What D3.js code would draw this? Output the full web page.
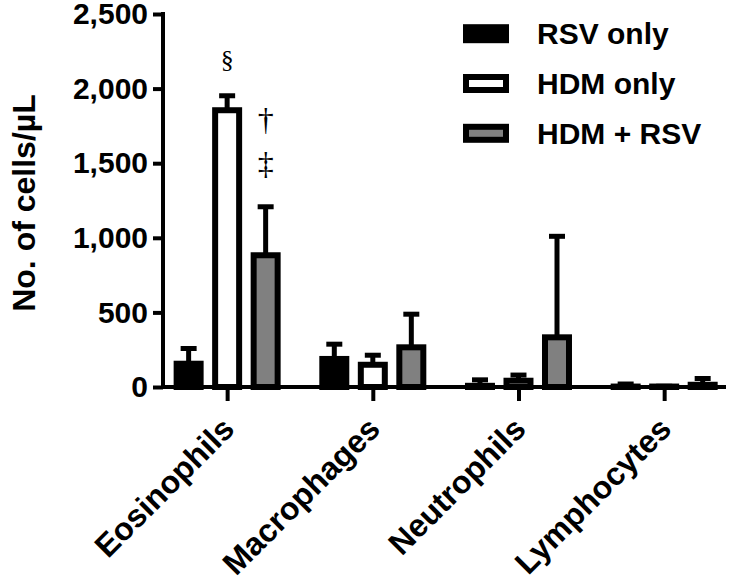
<!DOCTYPE html>
<html><head><meta charset="utf-8">
<script src="https://cdn.jsdelivr.net/npm/d3@7"></script>
<style>
body{margin:0;background:#fff;}
svg{display:block;font-family:"Liberation Sans",Arial,sans-serif;font-weight:bold;}
</style></head>
<body><svg id="c" width="731" height="581"></svg>
<script>
const categories = ["Eosinophils", "Macrophages", "Neutrophils", "Lymphocytes"];
const seriesNames = ["RSV only", "HDM only", "HDM + RSV"];
const rsvOnly = [156, 188, 8, 3];
const hdmOnly = [1855, 149, 42, 3];
const hdmRsv = [883, 266, 333, 15];
const rsvErr = [102, 99, 40, 17];
const hdmErr = [97, 64, 38, 2];
const hdmRsvErr = [325, 222, 677, 42];
const yTicks = [0, 500, 1000, 1500, 2000, 2500];
const annotations = [
  {cat: "Eosinophils", series: "HDM only", text: "§", value: 2135, size: 26},
  {cat: "Eosinophils", series: "HDM + RSV", text: "†", value: 1720, size: 32},
  {cat: "Eosinophils", series: "HDM + RSV", text: "‡", value: 1430, size: 32}
];
const fills = ["#000000", "#ffffff", "#808080"];

const values = [rsvOnly, hdmOnly, hdmRsv];
const errs = [rsvErr, hdmErr, hdmRsvErr];
const data = [];
categories.forEach((c, i) => seriesNames.forEach((s, j) => data.push({cat: c, series: s, j, v: values[j][i], e: errs[j][i]})));

const svg = d3.select("#c");
const y = d3.scaleLinear().domain([0, 2500]).range([387, 14]);
const x0 = d3.scaleBand().domain(categories).range([154.3, 737]).padding(0);
const x1 = d3.scaleBand().domain(seriesNames).range([0, x0.bandwidth()]).paddingInner(0.377).paddingOuter(0.58);
const color = d3.scaleOrdinal().domain(seriesNames).range(fills);

// bars
svg.append("g").selectAll("rect").data(data).join("rect")
  .attr("x", d => x0(d.cat) + x1(d.series))
  .attr("y", d => y(d.v))
  .attr("width", x1.bandwidth())
  .attr("height", d => y(0) - y(d.v))
  .attr("fill", d => color(d.series))
  .attr("stroke", "#000").attr("stroke-width", 6);

// error bars
const eg = svg.append("g").attr("stroke", "#000").attr("stroke-width", 5);
data.forEach(d => {
  const cx = x0(d.cat) + x1(d.series) + x1.bandwidth() / 2;
  eg.append("line").attr("x1", cx).attr("x2", cx).attr("y1", y(d.v)).attr("y2", y(d.v + d.e));
  eg.append("line").attr("x1", cx - 8).attr("x2", cx + 8).attr("y1", y(d.v + d.e)).attr("y2", y(d.v + d.e));
});

// y axis
const yAxis = svg.append("g").attr("transform", "translate(163,0)")
  .call(d3.axisLeft(y).tickValues(yTicks).tickFormat(d3.format(",")).tickSize(10).tickSizeOuter(0).tickPadding(5));
yAxis.select(".domain").remove();
yAxis.selectAll(".tick line").attr("stroke", "#000").attr("stroke-width", 4);
yAxis.selectAll("text").attr("font-size", 30).attr("font-family", "Liberation Sans, Arial, sans-serif").attr("font-weight", "bold").attr("fill", "#000");
svg.append("line").attr("x1", 163).attr("x2", 163).attr("y1", y(2500) - 2).attr("y2", y(0) + 2).attr("stroke", "#000").attr("stroke-width", 4);

// x axis
const xc = d3.scalePoint().domain(categories).range([x0(categories[0]) + x0.bandwidth()/2, x0(categories[3]) + x0.bandwidth()/2]);
const xAxis = svg.append("g").attr("transform", "translate(0,387)")
  .call(d3.axisBottom(xc).tickSize(14).tickSizeOuter(0).tickFormat(""));
xAxis.select(".domain").remove();
xAxis.selectAll(".tick line").attr("stroke", "#000").attr("stroke-width", 4);
svg.append("line").attr("x1", 161).attr("x2", 726).attr("y1", 387).attr("y2", 387).attr("stroke", "#000").attr("stroke-width", 4);

// category labels
svg.append("g").selectAll("text").data(categories).join("text")
  .attr("transform", d => `translate(${xc(d) + 9},431) rotate(-45)`)
  .attr("text-anchor", "end").attr("font-size", 32).attr("fill", "#000")
  .text(d => d);

// y title
svg.append("text").attr("transform", "translate(35,203) rotate(-90)")
  .attr("text-anchor", "middle").attr("font-size", 32).attr("fill", "#000")
  .text("No. of cells/µL");

// annotations
svg.append("g").selectAll("text").data(annotations).join("text")
  .attr("x", d => x0(d.cat) + x1(d.series) + x1.bandwidth()/2)
  .attr("y", d => y(d.value))
  .attr("text-anchor", "middle")
  .attr("font-family", "Liberation Serif, Times New Roman, serif").attr("font-weight", "normal")
  .attr("font-size", d => d.size).attr("fill", "#000")
  .text(d => d.text);

// legend
const lg = svg.append("g");
seriesNames.forEach((s, i) => {
  const cy = 33.7 + i * 49.8;
  lg.append("rect").attr("x", 466).attr("y", cy - 6.5).attr("width", 40).attr("height", 13)
    .attr("fill", color(s)).attr("stroke", "#000").attr("stroke-width", 6);
  lg.append("text").attr("x", 537).attr("y", cy + 10.5).attr("font-size", 30).attr("fill", "#000").text(s);
});
</script></body></html>
